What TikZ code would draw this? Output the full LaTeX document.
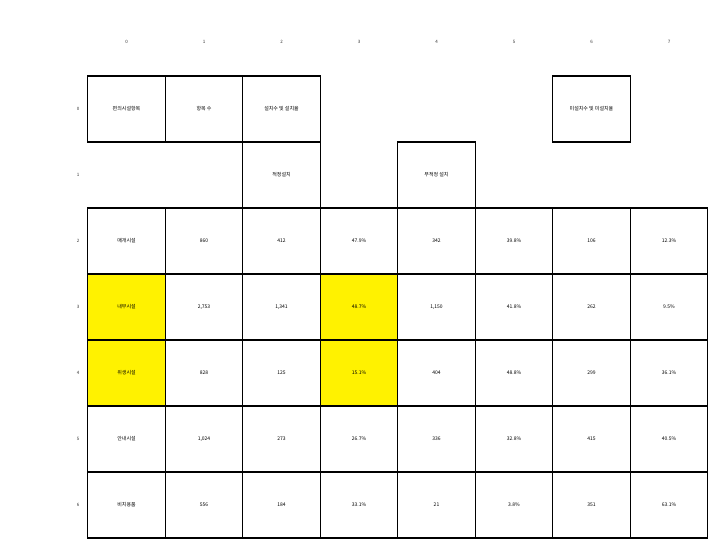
\documentclass[tikz,border=0pt]{standalone}
\usepackage{fontspec}
\newfontfamily\kr{Noto Sans CJK KR}

\tikzset{
  cell/.style={draw, line width=1.2pt, minimum width=77.5pt, minimum height=66pt, inner sep=0pt, font=\kr\fontsize{5}{6}\selectfont},
  hl/.style={cell, fill=yellow},
  idx/.style={inner sep=0pt, text=black!80, font=\kr\fontsize{4.5}{5}\selectfont}
}

\begin{document}
\begin{tikzpicture}[x=1pt, y=-1pt]
\useasboundingbox (0,0) rectangle (717,548);
% column and row indices
\foreach \c in {0,...,7} \node[idx] (col\c) at (126.5+77.5*\c, 42) {\c};
\foreach \r in {0,...,6} \node[idx] (row\r) at (78, 109+66*\r) {\r};

% header rows
\node[cell] (item) at (126.5, 109) {편의시설항목};
\node[cell] (count) at (204, 109) {항목 수};
\node[cell] (inst) at (281.5, 109) {설치수 및 설치율};
\node[cell] (noinst) at (591.5, 109) {미설치수 및 미설치율};
\node[cell] (proper) at (281.5, 175) {적정설치};
\node[cell] (improper) at (436.5, 175) {부적정 설치};

% data rows
\foreach \s/\t [count=\c from 0] in {cell/매개시설, cell/860, cell/412, cell/47.9\%, cell/342, cell/39.8\%, cell/106, cell/12.3\%}
  \node[\s] (a\c) at (126.5+77.5*\c, 241) {\t};
\foreach \s/\t [count=\c from 0] in {hl/내부시설, {cell/2,753}, {cell/1,341}, hl/48.7\%, {cell/1,150}, cell/41.8\%, cell/262, cell/9.5\%}
  \node[\s] (b\c) at (126.5+77.5*\c, 307) {\t};
\foreach \s/\t [count=\c from 0] in {hl/위생시설, cell/828, cell/125, hl/15.1\%, cell/404, cell/48.8\%, cell/299, cell/36.1\%}
  \node[\s] (d\c) at (126.5+77.5*\c, 373) {\t};
\foreach \s/\t [count=\c from 0] in {cell/안내시설, {cell/1,024}, cell/273, cell/26.7\%, cell/336, cell/32.8\%, cell/415, cell/40.5\%}
  \node[\s] (e\c) at (126.5+77.5*\c, 439) {\t};
\foreach \s/\t [count=\c from 0] in {cell/비치용품, cell/556, cell/184, cell/33.1\%, cell/21, cell/3.8\%, cell/351, cell/63.1\%}
  \node[\s] (f\c) at (126.5+77.5*\c, 505) {\t};
\end{tikzpicture}
\end{document}
